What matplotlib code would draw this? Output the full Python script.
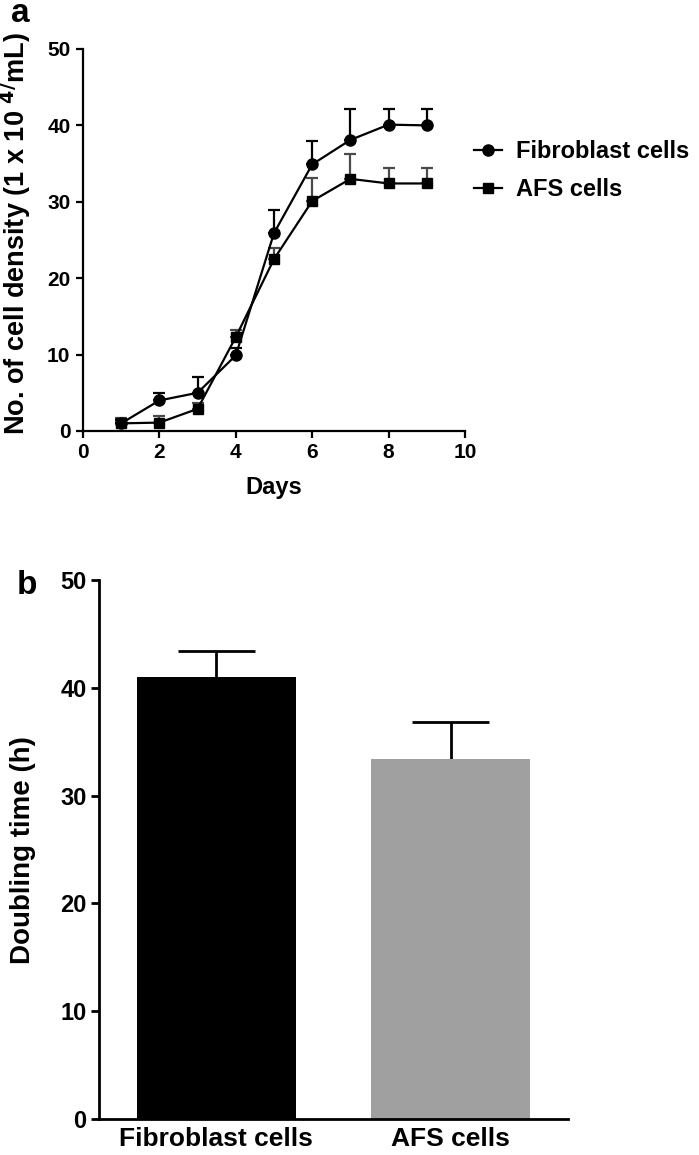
import matplotlib
matplotlib.use('Agg')
import matplotlib.pyplot as plt
import numpy as np

plt.rcParams['font.family'] = ['Liberation Sans', 'DejaVu Sans']
plt.rcParams['font.weight'] = 'bold'

# Panel a: growth curves
days = [1, 2, 3, 4, 5, 6, 7, 8, 9]
fibro_mean = [1.0, 4.0, 5.0, 9.9, 25.9, 34.9, 38.1, 40.1, 40.0]
fibro_err = [0.5, 1.0, 2.1, 1.0, 3.0, 3.1, 4.0, 2.0, 2.1]
afs_mean = [1.0, 1.1, 2.9, 12.3, 22.5, 30.1, 33.0, 32.4, 32.4]
afs_err = [0.7, 0.8, 0.8, 0.9, 1.5, 3.0, 3.2, 2.0, 2.0]

# Panel b: doubling time
groups = ['Fibroblast cells', 'AFS cells']
doubling = [41.0, 33.4]
doubling_err = [2.4, 3.4]
bar_colors = ['#000000', '#a0a0a0']

W, H = 699, 1155
fig = plt.figure(figsize=(W / 100, H / 100), dpi=100)

# ---- panel a ----
ax1 = fig.add_axes([83 / W, 1 - 431 / H, (465 - 83) / W, (431 - 49) / H])
ax1.errorbar(days, afs_mean, yerr=[np.zeros(len(afs_err)), afs_err], fmt='none',
             ecolor='#4a4a4a', elinewidth=1.6, capsize=4, capthick=1.6, zorder=2)
ax1.errorbar(days, fibro_mean, yerr=[np.zeros(len(fibro_err)), fibro_err], fmt='none',
             ecolor='black', elinewidth=1.6, capsize=4, capthick=1.6, zorder=2)
ax1.plot(days, fibro_mean, color='black', marker='o', markersize=8, lw=1.6,
         label='Fibroblast cells', zorder=3)
ax1.plot(days, afs_mean, color='black', marker='s', markersize=7.5, lw=1.6,
         label='AFS cells', zorder=3)

ax1.set_xlim(0, 10)
ax1.set_ylim(0, 50)
ax1.set_xticks(range(0, 11, 2))
ax1.set_yticks(range(0, 51, 10))
ax1.spines['top'].set_visible(False)
ax1.spines['right'].set_visible(False)
for s in ['left', 'bottom']:
    ax1.spines[s].set_linewidth(1.6)
ax1.tick_params(width=1.6, length=5, labelsize=15, pad=4)
for lab in ax1.get_xticklabels() + ax1.get_yticklabels():
    lab.set_fontweight('bold')
ax1.set_xlabel('Days', fontsize=17, fontweight='bold', labelpad=10)
ax1.set_ylabel('No. of cell density (1 x 10 $^{\\mathbf{4/}}$mL)', fontsize=19.5,
               fontweight='bold')
ax1.yaxis.set_label_coords(33 / W, 1 - 233 / H, transform=fig.transFigure)
ax1.legend(loc='upper left', bbox_to_anchor=(474 / W, 1 - 140 / H),
           bbox_transform=fig.transFigure, frameon=False,
           handlelength=1.2, handletextpad=0.6, labelspacing=0.65,
           borderpad=0, borderaxespad=0, prop={'weight': 'bold', 'size': 17})
fig.text(20 / W, 1 - 14 / H, 'a', fontsize=24, fontweight='bold', ha='center', va='center')

# ---- panel b ----
ax2 = fig.add_axes([99 / W, 1 - 1119 / H, (568 - 99) / W, (1119 - 580) / H])
xpos = np.arange(len(groups))
tops = np.array(doubling) + np.array(doubling_err)
# upper error bars only: stem + cap
ax2.vlines(xpos, doubling, tops, color='black', lw=2, zorder=1)
ax2.hlines(tops, xpos - 0.165, xpos + 0.165, color='black', lw=2, zorder=1)
ax2.bar(xpos, doubling, width=0.68, color=bar_colors, zorder=2)
ax2.set_xlim(-0.5, 1.5)
ax2.set_ylim(0, 50)
ax2.set_yticks(range(0, 51, 10))
ax2.set_xticks(xpos)
ax2.set_xticklabels(groups, fontsize=19, fontweight='bold')
ax2.spines['top'].set_visible(False)
ax2.spines['right'].set_visible(False)
for s in ['left', 'bottom']:
    ax2.spines[s].set_linewidth(2)
ax2.tick_params(axis='y', width=2, length=6, labelsize=17, pad=3)
ax2.tick_params(axis='x', length=0, pad=6)
for lab in ax2.get_yticklabels():
    lab.set_fontweight('bold')
ax2.set_ylabel('Doubling time (h)', fontsize=20, fontweight='bold')
ax2.yaxis.set_label_coords(36 / W, 1 - 850 / H, transform=fig.transFigure)
fig.text(27 / W, 1 - 586 / H, 'b', fontsize=24, fontweight='bold', ha='center', va='center')

fig.savefig('out.png', dpi=100)
